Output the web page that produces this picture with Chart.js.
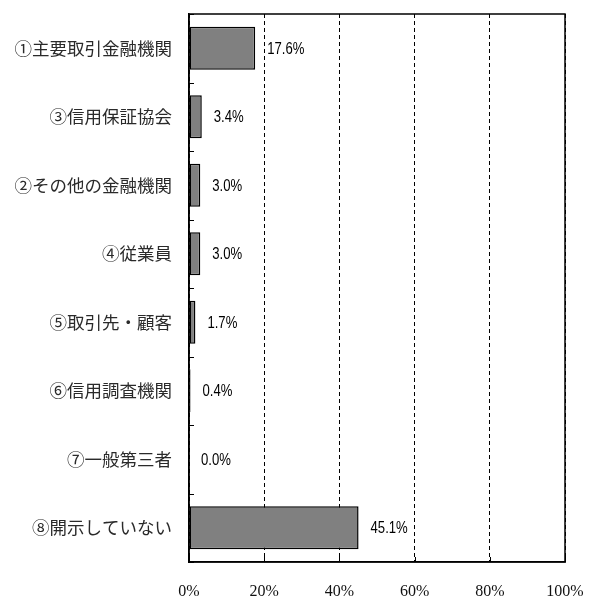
<!DOCTYPE html>
<html>
<head>
<meta charset="utf-8">
<script src="https://cdn.jsdelivr.net/npm/chart.js@4.4.0/dist/chart.umd.min.js"></script>
<style>
html,body{margin:0;padding:0;background:#fff;}
#wrap{width:589px;height:597px;}
</style>
</head>
<body>
<div id="wrap"><canvas id="c" width="589" height="597"></canvas></div>
<script>
const categories = ['①主要取引金融機関','③信用保証協会','②その他の金融機関','④従業員','⑤取引先・顧客','⑥信用調査機関','⑦一般第三者','⑧開示していない'];
const values = [17.6, 3.4, 3.0, 3.0, 1.7, 0.4, 0.0, 45.1];
const xTicks = [0, 20, 40, 60, 80, 100];

const framePlugin = {
  id: 'frame',
  afterDatasetsDraw(chart) {
    const {ctx, chartArea: a, scales} = chart;
    const ys = scales.y, xs = scales.x;
    ctx.save();
    ctx.strokeStyle = '#000';
    ctx.lineWidth = 1.5;
    ctx.setLineDash([]);
    ctx.strokeRect(a.left, a.top, a.right - a.left, a.bottom - a.top);
    ctx.lineWidth = 1;
    const n = categories.length;
    for (let i = 0; i <= n; i++) {
      const y = ys.getPixelForValue(i - 0.5);
      ctx.beginPath();
      ctx.moveTo(a.left, Math.round(y) + 0.5);
      ctx.lineTo(a.left + 5, Math.round(y) + 0.5);
      ctx.stroke();
    }
    xTicks.forEach(v => {
      const x = Math.round(xs.getPixelForValue(v)) + 0.5;
      ctx.beginPath();
      ctx.moveTo(x, a.bottom);
      ctx.lineTo(x, a.bottom - 5);
      ctx.stroke();
    });
    // value labels (narrow sans, horizontally condensed)
    ctx.fillStyle = '#000';
    ctx.textAlign = 'left';
    ctx.textBaseline = 'middle';
    ctx.font = '16px "Liberation Sans", Arial, sans-serif';
    const meta = chart.getDatasetMeta(0);
    meta.data.forEach((bar, i) => {
      ctx.save();
      ctx.translate(bar.x + 12, bar.y + 1);
      ctx.scale(0.82, 1);
      ctx.fillText(values[i].toFixed(1) + '%', 0, 0);
      ctx.restore();
    });
    ctx.restore();
  }
};

new Chart(document.getElementById('c'), {
  type: 'bar',
  data: {
    labels: categories,
    datasets: [{
      data: values,
      backgroundColor: '#808080',
      borderColor: '#000',
      borderWidth: 1.5,
      borderSkipped: false,
      barPercentage: 0.63,
      categoryPercentage: 1.0
    }]
  },
  options: {
    indexAxis: 'y',
    responsive: false,
    animation: false,
    devicePixelRatio: 1,
    layout: {padding: {top: 14, right: 24, left: 0, bottom: 0}},
    plugins: {legend: {display: false}, tooltip: {enabled: false}},
    scales: {
      x: {
        min: 0, max: 100,
        afterBuildTicks(scale) { scale.ticks = xTicks.map(v => ({value: v})); },
        afterFit(scale) {
          scale.height = 35;
          scale.paddingLeft = 0; scale.paddingRight = 0;
          scale.paddingTop = 0; scale.paddingBottom = 0;
        },
        grid: {color: '#000', lineWidth: 1, drawTicks: false},
        border: {display: true, color: '#000', width: 1.5, dash: [4, 3]},
        ticks: {
          padding: 20,
          color: '#111',
          font: {family: '"Liberation Serif", "Times New Roman", serif', size: 16},
          callback: v => v + '%'
        }
      },
      y: {
        afterFit(scale) {
          scale.width = 189;
          scale.paddingLeft = 0; scale.paddingRight = 0;
          scale.paddingTop = 0; scale.paddingBottom = 0;
        },
        grid: {display: false, drawTicks: false},
        border: {display: true, color: '#000', width: 1.5},
        ticks: {
          padding: 17,
          color: '#2a2a2a',
          font: {family: '"Noto Sans CJK JP", sans-serif', size: 17.5}
        }
      }
    }
  },
  plugins: [framePlugin]
});
</script>
</body>
</html>
